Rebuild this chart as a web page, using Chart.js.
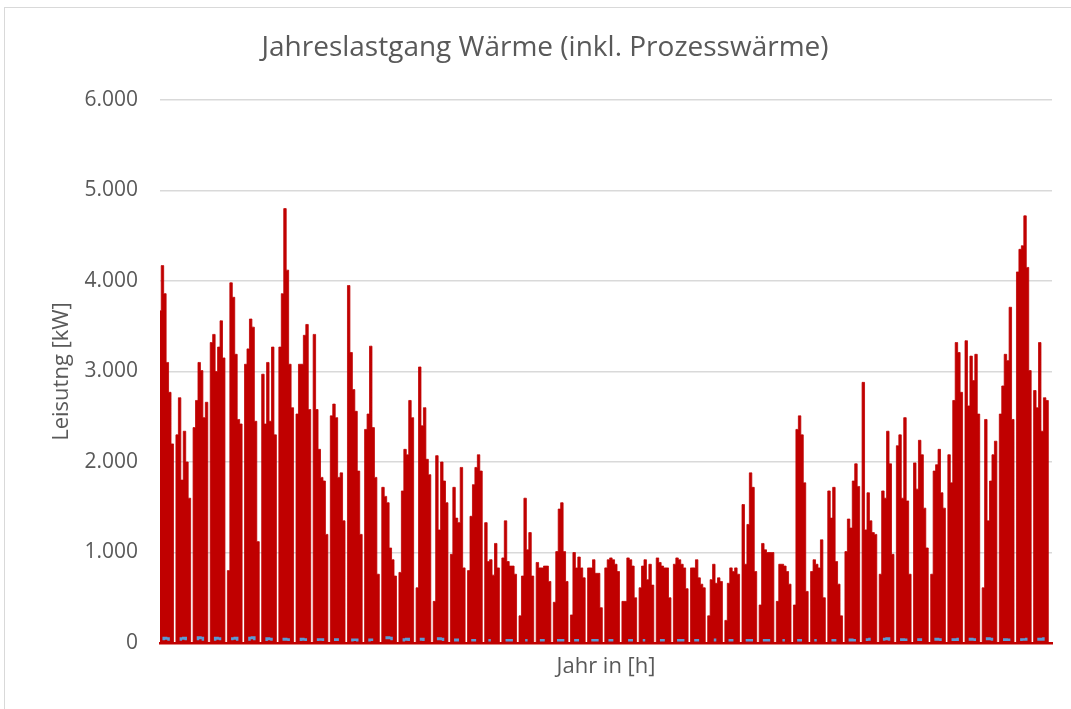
<!DOCTYPE html>
<html lang="de">
<head>
<meta charset="utf-8">
<title>Jahreslastgang Wärme</title>
<script src="https://cdn.jsdelivr.net/npm/chart.js@4.4.0/dist/chart.umd.min.js"></script>
<style>
  html, body { margin: 0; padding: 0; background: #fff; overflow: hidden; }
  #frame { position: absolute; left: 4px; top: 7px; width: 1100px; height: 730px; border: 1px solid #d9d9d9; }
  #chart { position: absolute; left: 0; top: 0; }
</style>
</head>
<body>
<div id="frame"></div>
<canvas id="chart" width="1071" height="709"></canvas>
<script>
// Jahreslastgang Wärme - Tageswerte [kW], eine Zeile pro Woche
const titel = 'Jahreslastgang Wärme (inkl. Prozesswärme)';
const yTicks = ['0', '1.000', '2.000', '3.000', '4.000', '5.000', '6.000'];

const waerme = [
  3670, 4170, 3860, 3100, 2770, 2200, 0,
  2300, 2710, 1800, 2340, 2000, 1600, 0,
  2380, 2680, 3100, 3010, 2490, 2660, 0,
  3320, 3410, 3000, 3270, 3560, 3150, 0,
  800, 3980, 3820, 3190, 2470, 2420, 0,
  3080, 3250, 3580, 3490, 2450, 1120, 0,
  2970, 2420, 3100, 2450, 3270, 2300, 0,
  3270, 3860, 4800, 4120, 3080, 2600, 0,
  2530, 3080, 3080, 3400, 3520, 2580, 0,
  3410, 2580, 2140, 1830, 1790, 1200, 0,
  2510, 2640, 2490, 1830, 1880, 1350, 0,
  3950, 3210, 2800, 2560, 1900, 1200, 0,
  2360, 2530, 3280, 2380, 1830, 760, 0,
  1720, 1620, 1550, 1050, 920, 740, 0,
  780, 1680, 2140, 2080, 2680, 2490, 0,
  610, 3050, 2400, 2600, 2030, 1860, 0,
  460, 2070, 1250, 2000, 1790, 1550, 0,
  980, 1720, 1380, 1330, 1940, 830, 0,
  800, 1400, 1750, 1940, 2080, 1900, 0,
  1330, 900, 920, 750, 1100, 830, 0,
  940, 1350, 900, 850, 850, 760, 0,
  300, 740, 1600, 1030, 1220, 740, 0,
  890, 830, 830, 850, 850, 680, 0,
  450, 1010, 1480, 1550, 1010, 680, 0,
  310, 1000, 830, 950, 830, 720, 0,
  830, 830, 920, 770, 770, 390, 0,
  830, 920, 940, 920, 870, 790, 0,
  460, 460, 940, 920, 850, 500, 0,
  610, 850, 920, 700, 870, 640, 0,
  940, 890, 850, 830, 830, 500, 0,
  870, 940, 920, 870, 830, 600, 0,
  830, 830, 920, 720, 650, 610, 0,
  300, 700, 870, 660, 720, 680, 0,
  250, 660, 830, 790, 830, 760, 0,
  1530, 870, 1310, 1880, 1720, 790, 0,
  420, 1100, 1030, 1000, 1000, 1000, 0,
  460, 870, 870, 850, 790, 650, 0,
  420, 2360, 2510, 2300, 1770, 570, 0,
  790, 920, 870, 830, 1140, 500, 0,
  1680, 1380, 1720, 900, 650, 300, 0,
  1010, 1370, 1270, 1790, 1980, 1730, 0,
  2880, 1250, 1660, 1350, 1220, 1200, 0,
  760, 1680, 1600, 2340, 1980, 980, 0,
  2180, 2300, 1600, 2490, 1570, 760, 0,
  1990, 1700, 2240, 2080, 1490, 1050, 0,
  760, 1900, 1970, 2140, 1660, 1490, 0,
  2080, 1770, 2680, 3320, 3210, 2770, 0,
  3340, 2620, 3170, 2900, 3190, 2530, 0,
  610, 2470, 1350, 1790, 2080, 2230, 0,
  2530, 2840, 3190, 3120, 3710, 2470, 0,
  4100, 4350, 4390, 4720, 4150, 3010, 0,
  2790, 2600, 3320, 2340, 2710, 2680, 0,
  0
];

// Prozesswärme (kleiner Anteil, null = nicht sichtbar)
const prozess = [
  null, 45, 55, 50, 40, null, null,
  null, 40, 50, 55, 45, null, null,
  null, 45, 60, 55, 40, null, null,
  null, 40, 55, 50, 45, null, null,
  null, 45, 50, 55, 40, null, null,
  null, 40, 55, 60, 45, null, null,
  null, 35, 50, 45, 40, null, null,
  null, 40, 45, 40, 35, null, null,
  null, 35, 45, 40, 35, null, null,
  null, 35, 40, 40, 35, null, null,
  null, 35, 40, 35, null, null, null,
  null, 30, 35, 35, 30, null, null,
  null, 30, 35, 35, null, null, null,
  null, 55, 60, 55, 45, null, null,
  null, 30, 40, 45, 35, null, null,
  null, 40, 45, 35, null, null, null,
  null, 45, 50, 45, 35, null, null,
  null, 30, 35, 30, null, null, null,
  null, 30, 30, 30, null, null, null,
  null, 30, 30, null, 30, null, null,
  null, 30, 30, 30, 30, null, null,
  null, null, 30, 30, null, null, null,
  null, 30, 30, 30, null, null, null,
  null, 30, 30, 30, 30, null, null,
  null, 30, 30, 30, null, null, null,
  null, 30, 30, 30, 30, null, null,
  null, 30, 30, 30, null, null, null,
  null, null, 30, 30, 30, null, null,
  null, 30, 30, null, 30, null, null,
  null, 30, 30, 30, null, null, null,
  null, 30, 30, 30, 30, null, null,
  null, 30, 30, 30, null, null, null,
  null, null, 35, 30, null, null, null,
  null, 30, 30, 30, null, null, null,
  null, 30, 30, 30, 30, null, null,
  null, 30, 30, 30, 30, null, null,
  null, null, 30, 30, null, null, null,
  null, 30, 30, 30, null, null, null,
  null, 30, 30, null, 30, null, null,
  null, 30, 30, 30, null, null, null,
  null, 30, 35, 30, 30, null, null,
  null, 35, 40, 45, null, null, null,
  null, 40, 45, 50, 40, null, null,
  null, 35, 40, 35, 35, null, null,
  null, 35, 40, 35, null, null, null,
  null, 40, 45, 40, 35, null, null,
  null, 35, 40, 35, 45, null, null,
  null, 40, 45, 40, 35, null, null,
  null, 45, 50, 45, 40, null, null,
  null, 35, 40, 35, 35, null, null,
  null, 35, 40, 40, 45, null, null,
  null, 40, 45, 40, 50, null, null,
  null
];

const stunden = waerme.map((_, i) => i * 24);

const textFarbe = '#595959';
const schrift = 'Open Sans';

const ctx = document.getElementById('chart').getContext('2d');
new Chart(ctx, {
  type: 'line',
  data: {
    labels: stunden,
    datasets: [
      { label: 'Prozesswärme', data: prozess, borderColor: '#5B9BD5', borderWidth: 2.5,
        pointRadius: 0, stepped: 'middle', fill: false, spanGaps: false },
      { label: 'Wärme', data: waerme, borderColor: '#C00000', backgroundColor: '#C00000',
        borderWidth: 0.8, pointRadius: 0, stepped: 'middle', fill: 'origin' }
    ]
  },
  options: {
    responsive: false,
    animation: false,
    layout: { padding: { left: 38, right: 19, top: 0, bottom: 0 } },
    plugins: {
      legend: { display: false },
      tooltip: { enabled: false },
      title: {
        display: true, text: titel, color: textFarbe,
        font: { family: schrift, size: 28, weight: 'normal' },
        padding: { top: 31, bottom: 35.4 }
      }
    },
    scales: {
      x: {
        offset: false,
        grid: { display: false },
        ticks: { display: false },
        border: { display: true, color: '#C00000', width: 2.5 },
        title: { display: true, text: 'Jahr in [h]', color: textFarbe,
          font: { family: schrift, size: 22 }, padding: { top: 0, bottom: 29 } },
        afterFit: s => { s.height = 66; }
      },
      y: {
        min: 0, max: 6000,
        ticks: { stepSize: 1000, callback: (v, i) => yTicks[i], color: textFarbe,
          font: { family: schrift, size: 21 }, padding: 22 },
        grid: { color: '#d9d9d9', lineWidth: 1.5, drawTicks: false },
        border: { display: false },
        title: { display: true, text: 'Leisutng [kW]', color: textFarbe,
          font: { family: schrift, size: 22 }, padding: { top: 11, bottom: 0 } },
        afterFit: s => { s.width = 122; }
      }
    }
  }
});
</script>
</body>
</html>
